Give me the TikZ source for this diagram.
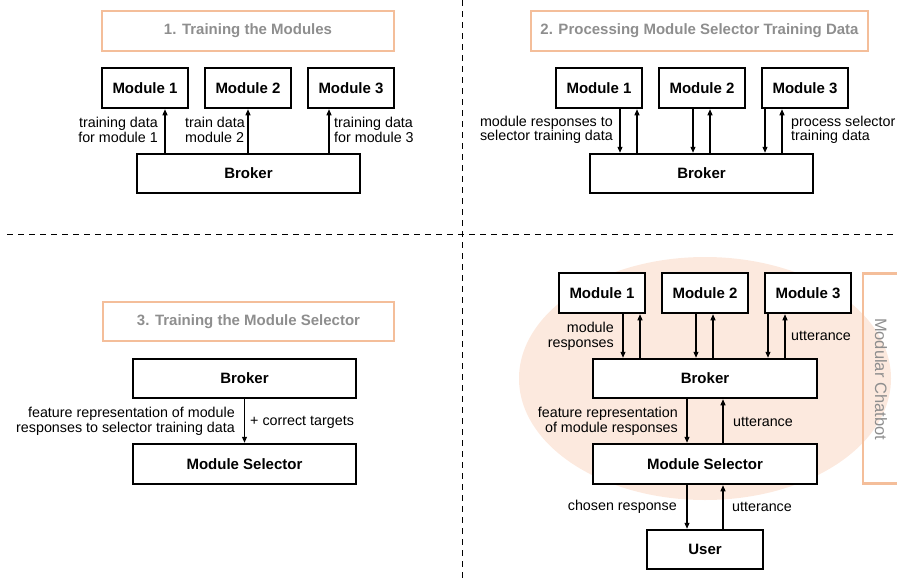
\documentclass[tikz,border=0pt]{standalone}
\usepackage{fontspec}
\setmainfont{Liberation Sans}
\usetikzlibrary{arrows.meta,shapes.geometric}
\definecolor{orng}{HTML}{F4BE9A}
\definecolor{peach}{HTML}{FCE9DE}
\definecolor{ttlgray}{HTML}{8E8E8E}
\tikzset{
  mbox/.style={draw=black, line width=2.5pt, fill=white, font=\fontsize{15}{15}\selectfont\bfseries, inner sep=0pt},
  ttl/.style={draw=orng, line width=2.2pt, inner sep=0pt, text=ttlgray, font=\fontsize{15}{15}\selectfont\bfseries},
  lbl/.style={font=\fontsize{14.3}{14.6}\selectfont, inner sep=0pt, align=left},
  lblr/.style={lbl, align=right},
  arr/.style={line width=1.1pt, -{Triangle[length=6pt,width=5pt]}},
  divider/.style={dashed, dash pattern=on 6pt off 5pt, line width=1pt},
}
\begin{document}
\begin{tikzpicture}[x=1pt,y=-1pt]
\useasboundingbox (0,0) rectangle (897,581);
% dividers
\coordinate (dvt) at (462,0);
\coordinate (dvb) at (462,581);
\coordinate (dhl) at (7,234);
\coordinate (dhr) at (897,234);
\draw[divider] (dvt) -- (dvb);
\draw[divider] (dhl) -- (dhr);

% ---------- Panel 1 ----------
\node[ttl, minimum width=292pt, minimum height=40pt] (t1) at (248,31) {1. Training the Modules};
\node[mbox, minimum width=86pt, minimum height=40pt] (am1) at (145,88) {Module 1};
\node[mbox, minimum width=86pt, minimum height=40pt] (am2) at (248,88) {Module 2};
\node[mbox, minimum width=86pt, minimum height=40pt] (am3) at (351,88) {Module 3};
\node[mbox, minimum width=223pt, minimum height=39pt] (ab) at (248.5,173.5) {Broker};
\coordinate (ax1) at (165,0);
\coordinate (ax2) at (248,0);
\coordinate (ax3) at (329,0);
\draw[arr] (ab.north -| ax1) -- (am1.south -| ax1);
\draw[arr] (ab.north -| ax2) -- (am2.south -| ax2);
\draw[arr] (ab.north -| ax3) -- (am3.south -| ax3);
\node[lblr, anchor=east] (al1) at (158,130) {training data\\for module 1};
\node[lbl, anchor=west] (al2) at (185,130) {train data\\module 2};
\node[lbl, anchor=west] (al3) at (334,130) {training data\\for module 3};

% ---------- Panel 2 ----------
\node[ttl, minimum width=337pt, minimum height=40pt] (t2) at (699.5,31) {2. Processing Module Selector Training Data};
\node[mbox, minimum width=86pt, minimum height=40pt] (bm1) at (599,88) {Module 1};
\node[mbox, minimum width=86pt, minimum height=40pt] (bm2) at (702,88) {Module 2};
\node[mbox, minimum width=86pt, minimum height=40pt] (bm3) at (805,88) {Module 3};
\node[mbox, minimum width=223pt, minimum height=39pt] (bb) at (701.5,173.5) {Broker};
\coordinate (bx1d) at (620,0);
\coordinate (bx1u) at (637,0);
\coordinate (bx2d) at (693,0);
\coordinate (bx2u) at (710,0);
\coordinate (bx3d) at (765,0);
\coordinate (bx3u) at (782,0);
\draw[arr] (bm1.south -| bx1d) -- (bb.north -| bx1d);
\draw[arr] (bb.north -| bx1u) -- (bm1.south -| bx1u);
\draw[arr] (bm2.south -| bx2d) -- (bb.north -| bx2d);
\draw[arr] (bb.north -| bx2u) -- (bm2.south -| bx2u);
\draw[arr] (bm3.south -| bx3d) -- (bb.north -| bx3d);
\draw[arr] (bb.north -| bx3u) -- (bm3.south -| bx3u);
\node[lblr, anchor=east] (bl1) at (613,130) {module responses to\\selector training data};
\node[lbl, anchor=west] (bl3) at (791,130) {process selector\\training data};

% ---------- Panel 3 ----------
\node[ttl, minimum width=291pt, minimum height=39pt] (t3) at (248.5,321.5) {3. Training the Module Selector};
\node[mbox, minimum width=223pt, minimum height=39pt] (cb) at (244.5,378.5) {Broker};
\node[mbox, minimum width=223pt, minimum height=40pt] (cs) at (244.5,464) {Module Selector};
\draw[arr] (cb.south) -- (cs.north);
\node[lblr, anchor=east] (cl1) at (235,421.5) {feature representation of module\\responses to selector training data};
\node[lbl, anchor=west] (cl2) at (250,422) {+ correct targets};

% ---------- Panel 4 ----------
\node[draw=none, fill=peach, ellipse, minimum width=372pt, minimum height=243pt, inner sep=0pt] (ell) at (705,378.5) {};
\node[draw=orng, line width=2.2pt, minimum width=60pt, minimum height=210pt, inner sep=0pt] (mc) at (893,378.5) {};
\node[text=ttlgray, font=\fontsize{16.5}{16.5}\selectfont, rotate=-90, inner sep=0pt] (mct) at (881,379) {Modular Chatbot};
\node[mbox, minimum width=86pt, minimum height=40pt] (dm1) at (602,293) {Module 1};
\node[mbox, minimum width=86pt, minimum height=40pt] (dm2) at (705,293) {Module 2};
\node[mbox, minimum width=86pt, minimum height=40pt] (dm3) at (808,293) {Module 3};
\node[mbox, minimum width=224pt, minimum height=39pt] (db) at (705,378.5) {Broker};
\node[mbox, minimum width=224pt, minimum height=40pt] (ds) at (705,464) {Module Selector};
\node[mbox, minimum width=116pt, minimum height=39pt] (du) at (705,549.5) {User};
\coordinate (dx1d) at (623,0);
\coordinate (dx1u) at (640,0);
\coordinate (dx2d) at (696,0);
\coordinate (dx2u) at (713,0);
\coordinate (dx3d) at (768,0);
\coordinate (dx3u) at (785,0);
\coordinate (dxd) at (687,0);
\coordinate (dxu) at (723,0);
\draw[arr] (dm1.south -| dx1d) -- (db.north -| dx1d);
\draw[arr] (db.north -| dx1u) -- (dm1.south -| dx1u);
\draw[arr] (dm2.south -| dx2d) -- (db.north -| dx2d);
\draw[arr] (db.north -| dx2u) -- (dm2.south -| dx2u);
\draw[arr] (dm3.south -| dx3d) -- (db.north -| dx3d);
\draw[arr] (db.north -| dx3u) -- (dm3.south -| dx3u);
\draw[arr] (db.south -| dxd) -- (ds.north -| dxd);
\draw[arr] (ds.north -| dxu) -- (db.south -| dxu);
\draw[arr] (ds.south -| dxd) -- (du.north -| dxd);
\draw[arr] (du.north -| dxu) -- (ds.south -| dxu);
\node[lblr, anchor=east] (dl1) at (614,336) {module\\responses};
\node[lbl, anchor=west] (dl2) at (791,336) {utterance};
\node[lblr, anchor=east] (dl3) at (678,421.5) {feature representation\\of module responses};
\node[lbl, anchor=west] (dl4) at (733,422) {utterance};
\node[lblr, anchor=east] (dl5) at (677,507) {chosen response};
\node[lbl, anchor=west] (dl6) at (732,507) {utterance};
\end{tikzpicture}
\end{document}
